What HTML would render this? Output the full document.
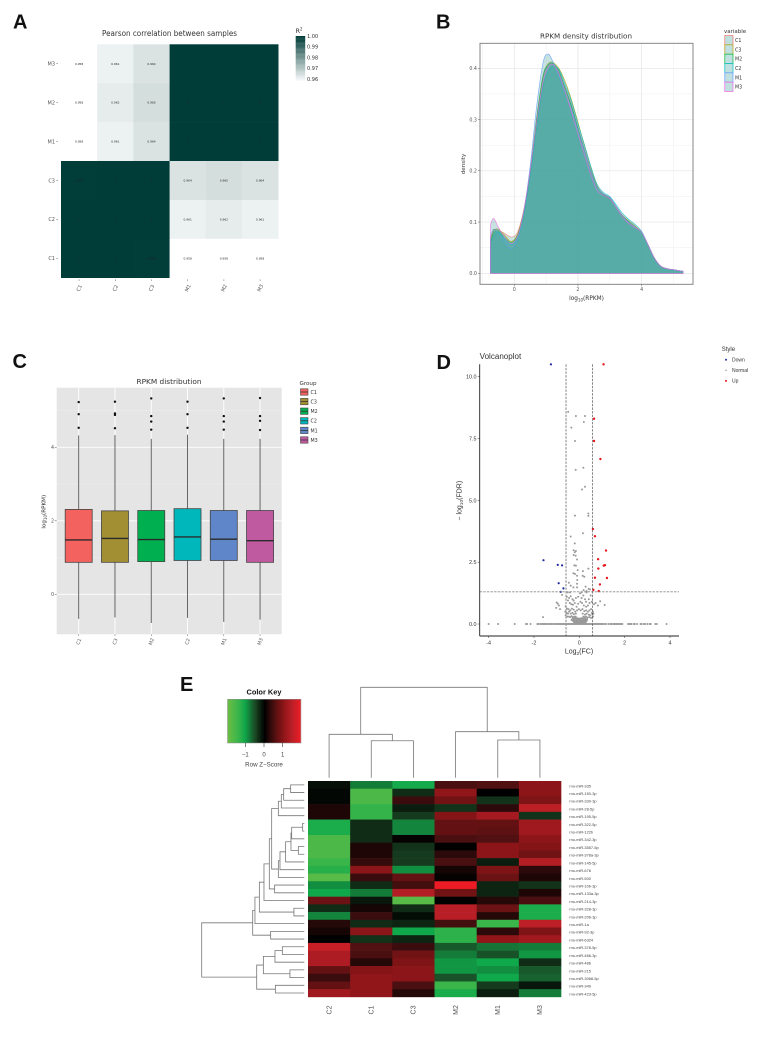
<!DOCTYPE html>
<html lang="en">
<head>
<meta charset="utf-8">
<title>Multi-panel RPKM and miRNA figure</title>
<style>
html,body{margin:0;padding:0;background:#fff;}
svg{display:block;filter:blur(0.3px);}
text{font-family:"DejaVu Sans","Liberation Sans",sans-serif;fill:#333;}
.ls{font-family:"Liberation Sans",sans-serif;}
.letter{font-family:"Liberation Sans",sans-serif;font-weight:bold;font-size:20px;fill:#111;}
</style>
</head>
<body>
<svg id="fig" xmlns="http://www.w3.org/2000/svg" width="771" height="1039" viewBox="0 0 771 1039">
<rect x="0" y="0" width="771" height="1039" fill="#fff"/>

<text class="letter" x="13" y="28.5">A</text>
<text class="letter" x="436" y="28.5">B</text>
<text class="letter" x="12.5" y="368">C</text>
<text class="letter" x="436.5" y="369">D</text>
<text class="letter" x="180" y="691">E</text>

<text x="169.5" y="36" font-size="7.6" text-anchor="middle" textLength="135" lengthAdjust="spacingAndGlyphs">Pearson correlation between samples</text>
<text x="295.5" y="33" font-size="6.5">R<tspan dy="-2.5" font-size="4">2</tspan></text>

<text x="586" y="38.5" font-size="7" text-anchor="middle" textLength="92" lengthAdjust="spacingAndGlyphs">RPKM density distribution</text>
<text x="0" y="0" font-size="5.6" text-anchor="middle" transform="translate(465,164) rotate(-90)">density</text>
<text x="586.5" y="300" font-size="5.8" text-anchor="middle">log<tspan dy="1.5" font-size="4">10</tspan><tspan dy="-1.5">(RPKM)</tspan></text>
<text x="724" y="33" font-size="5.5">variable</text>

<text x="169" y="384" font-size="7" text-anchor="middle" textLength="65" lengthAdjust="spacingAndGlyphs">RPKM distribution</text>
<text x="0" y="0" font-size="5.6" text-anchor="middle" transform="translate(45.5,511.7) rotate(-90)">log<tspan dy="1.5" font-size="4">10</tspan><tspan dy="-1.5">(RPKM)</tspan></text>
<text x="299.5" y="385" font-size="5.6">Group</text>

<text class="ls" x="479.7" y="359" font-size="8" textLength="41.5" lengthAdjust="spacingAndGlyphs">Volcanoplot</text>
<text class="ls" x="0" y="0" font-size="7" text-anchor="middle" transform="translate(461.5,500.7) rotate(-90)">− log<tspan dy="1.7" font-size="4.8">10</tspan><tspan dy="-1.7">(FDR)</tspan></text>
<text class="ls" x="579" y="653.5" font-size="7" text-anchor="middle">Log<tspan dy="1.7" font-size="4.8">2</tspan><tspan dy="-1.7">(FC)</tspan></text>
<text class="ls" x="721.7" y="351" font-size="6">Style</text>

<text class="ls" x="264" y="694.5" font-size="7.4" font-weight="bold" text-anchor="middle" style="fill:#111">Color Key</text>
<text class="ls" x="264" y="766.5" font-size="6.2" text-anchor="middle" style="fill:#444">Row Z−Score</text>

<g id="panelA"></g>
<g id="panelB"></g>
<g id="panelC"></g>
<g id="panelD"></g>
<g id="panelE"></g>
</svg>

<script>
/* ---------- Panel A data ---------- */
var corrRows = ['M3','M2','M1','C3','C2','C1'];
var corrCols = ['C1','C2','C3','M1','M2','M3'];
var corrValues = [
  [0.958,0.961,0.964,1,1,1],
  [0.958,0.962,0.965,1,1,1],
  [0.958,0.961,0.964,1,1,1],
  [0.999,1,1,0.964,0.965,0.964],
  [1,1,1,0.961,0.962,0.961],
  [1,1,0.999,0.958,0.958,0.958]
];
var corrBarTicks = [1.00,0.99,0.98,0.97,0.96];

/* ---------- Panel B data ---------- */
var densityGrid = [-0.75,-0.65,-0.5,-0.3,-0.1,0.1,0.3,0.5,0.7,0.9,1.05,1.2,1.4,1.6,1.8,2,2.2,2.4,2.6,2.8,3,3.2,3.4,3.6,3.8,4,4.2,4.4,4.6,4.8,5,5.3];
var densityC1 = [0.065,0.085,0.084,0.078,0.071,0.08,0.125,0.2,0.3,0.38,0.405,0.41,0.392,0.362,0.328,0.284,0.243,0.203,0.17,0.155,0.148,0.13,0.113,0.1,0.09,0.08,0.056,0.03,0.014,0.009,0.007,0.004];
var densityC3 = [0.06,0.082,0.086,0.074,0.062,0.076,0.122,0.198,0.298,0.383,0.408,0.412,0.4,0.374,0.338,0.295,0.25,0.208,0.171,0.153,0.145,0.128,0.113,0.102,0.092,0.08,0.056,0.03,0.014,0.009,0.007,0.004];
var densityM2 = [0.058,0.078,0.082,0.07,0.06,0.074,0.122,0.198,0.302,0.385,0.405,0.41,0.395,0.36,0.325,0.282,0.24,0.2,0.168,0.154,0.147,0.13,0.112,0.1,0.09,0.08,0.056,0.03,0.014,0.009,0.007,0.004];
var densityC2 = [0.058,0.072,0.08,0.066,0.056,0.068,0.115,0.19,0.285,0.365,0.392,0.403,0.398,0.368,0.335,0.292,0.252,0.21,0.174,0.158,0.15,0.134,0.117,0.105,0.095,0.082,0.056,0.03,0.014,0.009,0.007,0.004];
var densityM1 = [0.07,0.086,0.078,0.06,0.048,0.066,0.122,0.21,0.325,0.41,0.428,0.415,0.385,0.352,0.318,0.278,0.24,0.2,0.168,0.155,0.148,0.13,0.112,0.099,0.09,0.08,0.056,0.03,0.014,0.009,0.007,0.004];
var densityM3 = [0.095,0.107,0.09,0.07,0.058,0.072,0.122,0.2,0.295,0.372,0.4,0.408,0.39,0.354,0.314,0.272,0.232,0.193,0.162,0.152,0.146,0.128,0.11,0.097,0.089,0.08,0.056,0.03,0.014,0.009,0.007,0.004];
var densityNames = ['C1','C3','M2','C2','M1','M3'];
var densityXTicks = [0,2,4];
var densityYTicks = [0,0.1,0.2,0.3,0.4];

/* ---------- Panel C data ---------- */
var boxGroups = ['C1','C3','M2','C2','M1','M3'];
var boxQ1 = [0.87,0.87,0.89,0.92,0.92,0.87];
var boxMedian = [1.48,1.52,1.49,1.56,1.5,1.46];
var boxQ3 = [2.31,2.27,2.28,2.33,2.28,2.28];
var boxLow = [-0.67,-0.63,-0.78,-0.64,-0.75,-0.69];
var boxHigh = [4.32,4.33,4.23,4.34,4.23,4.23];
var boxOutliers = [
  [4.53,4.9,5.23],
  [4.52,4.88,4.92,5.24],
  [4.48,4.7,4.85,5.33],
  [4.53,4.9,5.24],
  [4.48,4.7,4.85,5.33],
  [4.47,4.72,4.85,5.34]
];
var boxYTicks = [0,2,4];

/* ---------- Panel D data ---------- */
var volcanoXTicks = [-4,-2,0,2,4];
var volcanoYTicks = [0,2.5,5,7.5,10];
var fcCutoff = 0.585;
var fdrCutoff = 1.3;
var downPoints = [[-1.25,10.5],[-1.58,2.58],[-0.95,2.39],[-0.76,2.37],[-0.91,1.65],[-0.7,1.44],[-0.82,1.3]];
var upPoints = [[1.07,10.5],[0.65,8.3],[0.65,7.4],[0.93,6.67],[0.6,3.84],[0.69,3.55],[1.18,2.97],[0.83,2.62],[1.13,2.38],[1.08,2.36],[0.84,2.24],[0.69,1.87],[1.22,1.86],[0.91,1.6],[0.86,1.33],[0.62,1.38]];
var normalPoints = [[-0.49,8.58],[-0.15,8.41],[0.25,8.41],[0.2,8.17],[-0.35,7.94],[-0.19,7.4],[0.18,6.32],[-0.16,6.23],[0.25,5.55],[0.12,5.44],[0.4,4.47],[0.4,4.37],[-0.19,4.38],[0.16,3.67],[-0.38,3.54],[-0.2,3.26],[-0.25,2.98],[-0.15,2.95],[-0.2,2.9],[-0.25,2.79],[-0.16,2.76],[-0.1,2.61],[-0.22,2.37],[-0.15,2.36],[-0.07,2.18],[0.16,2.14],[0.4,2.24],[-0.26,2.05],[-0.19,2.02],[-0.1,1.95],[0.15,1.95],[0.22,1.91],[-0.09,1.78],[-0.1,1.63],[-0.46,1.67],[-0.38,1.55],[-0.26,1.48],[-0.1,1.48],[0.28,1.51],[0.41,1.42],[0.19,1.37],[0.32,1.33],[0.47,1.4],[0.1,1.28],[0.03,1.24],[0.32,1.28],[-0.76,1.18],[-0.51,1.28],[-0.41,1.28],[-1.0,0.87],[-0.95,0.82],[-0.9,0.75],[-1.02,0.65],[-0.85,0.6],[-1.6,0.28],[0.92,0.92],[0.65,0.8],[1.12,0.77],[-0.55,1.1],[-0.45,1.05],[-0.38,1.12],[-0.3,1.0],[-0.25,0.95],[-0.15,1.05],[-0.05,1.1],[0.1,1.05],[0.18,1.15],[0.25,1.0],[0.3,0.9],[0.42,1.0],[0.5,1.15],[-0.5,0.95],[-0.42,0.85],[-0.35,0.8],[-0.28,0.78],[-0.2,0.85],[-0.12,0.7],[-0.05,0.82],[0.05,0.9],[0.12,0.85],[0.2,0.75],[0.3,0.7],[0.38,0.75],[0.45,0.85],[0.55,0.9],[0.72,0.85],[0.82,0.75],[-0.6,0.72],[-0.55,0.62],[-0.48,0.6],[-0.4,0.55],[-0.33,0.62],[-0.25,0.58],[-0.18,0.5],[-0.1,0.55],[-0.02,0.6],[0.06,0.55],[0.14,0.6],[0.22,0.52],[0.3,0.55],[0.38,0.5],[0.45,0.55],[0.52,0.6],[0.6,0.5],[0.62,0.42],[0.55,0.45],[-0.62,0.5],[-0.56,0.45],[-0.5,0.42],[-0.45,0.5],[-0.38,0.42],[-0.3,0.45],[-0.24,0.4],[-0.15,0.42],[0.15,0.42],[0.25,0.38],[0.32,0.42],[0.42,0.38],[0.48,0.35],[0.58,0.38],[0.6,0.3],[-0.6,0.35],[-0.52,0.3],[-0.45,0.3],[-0.4,0.28],[-0.34,0.32],[-0.28,0.28],[-0.22,0.3],[-0.16,0.3],[0.18,0.3],[0.24,0.28],[0.3,0.3],[0.36,0.26],[0.44,0.28],[0.52,0.25],[-0.3,0.22],[-0.26,0.2],[-0.22,0.22],[-0.18,0.24],[-0.14,0.2],[-0.1,0.24],[-0.06,0.2],[-0.02,0.22],[0.02,0.2],[0.06,0.22],[0.1,0.24],[0.14,0.2],[0.18,0.22],[0.22,0.2],[0.26,0.22],[0.3,0.18],[0.34,0.2],[-0.34,0.16],[-0.3,0.14],[-0.26,0.12],[-0.22,0.15],[-0.18,0.13],[-0.14,0.16],[-0.1,0.12],[-0.06,0.15],[-0.02,0.13],[0.02,0.16],[0.06,0.13],[0.1,0.15],[0.14,0.12],[0.18,0.15],[0.22,0.13],[0.26,0.14],[0.3,0.12],[0.34,0.14],[-0.24,0.08],[-0.2,0.06],[-0.16,0.09],[-0.12,0.05],[-0.08,0.08],[-0.04,0.05],[0,0.09],[0.04,0.05],[0.08,0.08],[0.12,0.05],[0.16,0.08],[0.2,0.06],[0.24,0.08],[0.28,0.06]];
var zeroFDRFoldChanges = [-4,-3.58,-2.85,-2.35,-2.3,-2.15,-1.85,-1.8,-1.72,-1.65,-1.6,-1.55,-1.5,-1.45,-1.38,-1.32,-1.28,-1.22,-1.18,-1.1,-1.05,-1,-0.95,-0.9,-0.85,-0.8,-0.75,-0.7,-0.65,-0.6,-0.55,-0.5,-0.45,-0.4,-0.35,-0.3,-0.25,-0.2,-0.15,-0.1,-0.05,0,0.05,0.1,0.15,0.2,0.25,0.3,0.35,0.4,0.45,0.5,0.55,0.6,0.65,0.7,0.75,0.8,0.85,0.9,0.95,1,1.05,1.12,1.2,1.3,1.38,1.42,1.5,1.55,1.6,1.65,1.7,1.75,1.8,1.85,1.9,2.15,2.2,2.25,2.3,2.4,2.45,2.55,2.7,2.75,2.85,2.9,3,3.1,3.15,3.35,3.42,3.85];
var volcanoLegend = ['Down','Normal','Up'];

/* ---------- Panel E data ---------- */
var heatCols = ['C2','C1','C3','M2','M1','M3'];
var heatRows = ['rno-miR-335','rno-miR-150-3p','rno-miR-330-3p','rno-miR-28-5p','rno-miR-195-5p','rno-miR-322-5p','rno-miR-122b','rno-miR-342-3p','rno-miR-3557-5p','rno-miR-378a-3p','rno-miR-145-5p','rno-miR-676','rno-miR-500','rno-miR-10b-3p','rno-miR-133a-3p','rno-miR-214-3p','rno-miR-328-3p','rno-miR-206-3p','rno-miR-1a','rno-miR-92-3p','rno-miR-6324','rno-miR-376-5p','rno-miR-466-3p','rno-miR-486','rno-miR-215','rno-miR-3068-5p','rno-miR-349','rno-miR-423-5p'];
var heatValues = [
  [-0.1,-0.8,-1.1,0.5,0.55,1.0],
  [-0.05,-1.6,-0.3,1.05,0,1.0],
  [-0.05,-1.6,0.4,0.8,-0.35,0.9],
  [0.2,-1.35,-0.2,-0.35,0.3,1.5],
  [0.2,-1.35,-0.4,0.95,1.25,-0.35],
  [-1.15,-0.3,-0.85,0.7,0.7,1.2],
  [-1.15,-0.3,-0.85,0.7,0.65,1.2],
  [-1.6,-0.3,0.05,0.5,0.55,1.0],
  [-1.6,0.2,-0.35,0,1.0,0.95],
  [-1.6,0.2,-0.4,0.3,1.0,0.8],
  [-1.4,0.35,-0.4,0.5,-0.2,1.4],
  [-1.25,1.0,-0.9,0.15,0.9,0.3],
  [-1.75,0.4,0.7,0.05,0.75,0.2],
  [-0.9,-0.3,0.45,1.95,-0.25,-0.35],
  [-1.05,-0.8,1.4,0.8,-0.25,0.2],
  [0.75,-0.15,-1.75,0,0.25,0.5],
  [-0.3,0.15,-0.3,1.45,0.75,-1.15],
  [-0.85,0.4,-0.08,1.45,0.25,-1.15],
  [0.25,-0.3,-0.25,0.45,-1.4,1.5],
  [0.15,1.0,-1.05,-1.3,0.3,0.9],
  [0,-0.35,-0.25,-1.3,1.05,1.2],
  [1.6,0.55,0.4,-0.6,-0.75,-0.8],
  [1.35,0.5,0.8,-0.8,-0.55,-0.95],
  [1.35,0.25,0.9,-0.95,-1.05,-0.3],
  [0.7,0.95,1.0,-0.95,-0.9,-0.6],
  [0.4,1.05,1.0,-0.55,-1.05,-0.65],
  [0.7,1.05,0.5,-1.4,-0.4,-0.15],
  [1.2,1.05,0.25,-1.15,-0.2,-0.8]
];
var keyTicks = [-1,0,1];
/* merges: [height, left, right]; integers at the leaves are column / row indices */
var colTree = [10,[4.8,0,[4.09,1,2]],[5.09,3,[4.17,4,5]]];
var rowTree = [10,
 [5.03,
  [4.81,
   [4.38,
    [3.93,
     [3.41,
      [3.18,
       [2.53,[2.24,[2.01,[1.33,0,1],2],3],4],
       [2.53,[2.37,[1.82,[1.3,[1.23,[0.16,5,6],7],[0.58,8,9]],10],11],12]
      ],
      [2.89,13,14]
     ],
     15
    ],
    [1.01,16,17]
   ],
   18
  ],
  [3.28,19,20]
 ],
 [4.64,
  [3.99,[2.86,[2.14,21,22],23],[1.4,24,25]],
  [2.82,26,27]
 ]
];

/* ---------- helpers ---------- */
var NS = 'http://www.w3.org/2000/svg';
function el(parent, tag, attrs, txt){
  var e = document.createElementNS(NS, tag);
  for (var k in attrs) e.setAttribute(k, attrs[k]);
  if (txt !== undefined) e.textContent = txt;
  parent.appendChild(e);
  return e;
}
function smoothPath(pts){
  var d = '';
  for (var i = 0; i < pts.length - 1; i++){
    var p0 = pts[Math.max(i-1,0)], p1 = pts[i], p2 = pts[i+1], p3 = pts[Math.min(i+2,pts.length-1)];
    var c1x = p1[0] + (p2[0]-p0[0])/6, c1y = p1[1] + (p2[1]-p0[1])/6;
    var c2x = p2[0] - (p3[0]-p1[0])/6, c2y = p2[1] - (p3[1]-p1[1])/6;
    d += 'C' + c1x.toFixed(2) + ' ' + c1y.toFixed(2) + ' ' + c2x.toFixed(2) + ' ' + c2y.toFixed(2) + ' ' + p2[0].toFixed(2) + ' ' + p2[1].toFixed(2);
  }
  return d;
}
function hexMix(a, b, t){
  var r = [];
  for (var i = 0; i < 3; i++) r.push(Math.round(a[i] + (b[i]-a[i])*t));
  return 'rgb(' + r.join(',') + ')';
}

/* ---------- Panel A ---------- */
(function(){
  var g = document.getElementById('panelA');
  var left = 61, top = 44.3, cw = 36.2, ch = 38.9;
  function colorOf(v){
    var t = Math.max(0, Math.min(1, (v - 0.958) / 0.0412));
    return hexMix([255,255,255],[0,60,56],t);
  }
  corrValues.forEach(function(row, r){
    row.forEach(function(v, c){
      var cell = el(g,'rect',{x:left+c*cw,y:top+r*ch,width:cw+0.3,height:ch+0.3,fill:colorOf(v)});
      
      
      var t = el(g,'text',{x:left+(c+0.5)*cw,y:top+(r+0.5)*ch+1,'font-size':2.9,'text-anchor':'middle',style:'fill:#222'}, String(v));
      
      
    });
  });
  corrRows.forEach(function(n, r){
    var y = top+(r+0.5)*ch;
    var t = el(g,'text',{x:55,y:y+1.8,'font-size':5,'text-anchor':'end',style:'fill:#555'}, n);
    
    
    var k = el(g,'line',{x1:56.3,x2:58,y1:y,y2:y,stroke:'#666','stroke-width':0.5});
    
    
  });
  corrCols.forEach(function(n, c){
    var x = left+(c+0.5)*cw;
    var t = el(g,'text',{transform:'translate('+x+',288) rotate(-65)','font-size':5,'text-anchor':'middle',y:1.8,style:'fill:#555'}, n);
    
    
    var k = el(g,'line',{x1:x,x2:x,y1:279.3,y2:281,stroke:'#666','stroke-width':0.5});
    
    
  });
  var barY = function(v){ return 36 + (1 - v) / 0.04 * 43; };
  for (var i = 0; i < 45; i++){
    var v = 1.0 - i * (0.046 / 45);
    var s = el(g,'rect',{x:295.7,y:barY(v),width:9.5,height:1.2,fill:colorOf(v)});
    
    
  }
  corrBarTicks.forEach(function(v){
    var t = el(g,'text',{x:307,y:barY(v)+1.8,'font-size':5,style:'fill:#333'}, v.toFixed(2));
    
    
  });
})();

/* ---------- Panel B ---------- */
(function(){
  var g = document.getElementById('panelB');
  var L = 480, R = 693, T = 43.3, B = 284.3;
  var sx = function(v){ return 514.3 + v * 31.83; };
  var sy = function(v){ return 273.3 - v * 512.5; };
  var lineColors = ['#F8766D','#B79F00','#00BA38','#00BFC4','#619CFF','#F564E3'];
  var series = [densityC1,densityC3,densityM2,densityC2,densityM1,densityM3];
  var bg = el(g,'rect',{x:L,y:T,width:R-L,height:B-T,fill:'#fff'});
  
  
  [1,3,5,-1].forEach(function(v){
    if (sx(v) > L && sx(v) < R){
      var m = el(g,'line',{x1:sx(v),x2:sx(v),y1:T,y2:B,stroke:'#f1f1f1','stroke-width':0.6});
      
      
    }
  });
  [0.05,0.15,0.25,0.35].forEach(function(v){
    var m = el(g,'line',{x1:L,x2:R,y1:sy(v),y2:sy(v),stroke:'#f1f1f1','stroke-width':0.6});
    
    
  });
  densityXTicks.forEach(function(v){
    var m = el(g,'line',{x1:sx(v),x2:sx(v),y1:T,y2:B,stroke:'#e4e4e4','stroke-width':0.7});
    
    
    var k = el(g,'line',{x1:sx(v),x2:sx(v),y1:B,y2:B+2,stroke:'#555','stroke-width':0.5});
    
    
    var t = el(g,'text',{x:sx(v),y:291,'font-size':4.8,'text-anchor':'middle',style:'fill:#555'}, String(v));
    
    
  });
  densityYTicks.forEach(function(v){
    var m = el(g,'line',{x1:L,x2:R,y1:sy(v),y2:sy(v),stroke:'#e4e4e4','stroke-width':0.7});
    
    
    var k = el(g,'line',{x1:L-2,x2:L,y1:sy(v),y2:sy(v),stroke:'#555','stroke-width':0.5});
    
    
    var t = el(g,'text',{x:477,y:sy(v)+1.7,'font-size':4.8,'text-anchor':'end',style:'fill:#555'}, v.toFixed(1));
    
    
  });
  series.forEach(function(vals, i){
    var pts = vals.map(function(v, j){ return [sx(densityGrid[j]), sy(v)]; });
    var x0 = sx(densityGrid[0]), x1 = sx(densityGrid[densityGrid.length-1]), y0 = sy(0);
    var d = 'M' + x0 + ' ' + y0 + 'L' + pts[0][0] + ' ' + pts[0][1] + smoothPath(pts) + 'L' + x1 + ' ' + y0 + 'Z';
    var p = el(g,'path',{d:d,fill:'rgba(67,163,156,0.3)',stroke:lineColors[i],'stroke-width':0.6,'stroke-opacity':0.85});
    
    
  });
  var border = el(g,'rect',{x:L,y:T,width:R-L,height:B-T,fill:'none',stroke:'#7a7a7a','stroke-width':0.9});
  
  
  densityNames.forEach(function(n, i){
    var y = 35.5 + i * 9.33;
    var k = el(g,'rect',{x:724.8,y:y,width:8.2,height:9.33,fill:'#c0dfdf',stroke:lineColors[i],'stroke-width':0.7});
    
    
    var t = el(g,'text',{x:735,y:y+6.5,'font-size':4.8,style:'fill:#333'}, n);
    
    
  });
})();

/* ---------- Panel C ---------- */
(function(){
  var g = document.getElementById('panelC');
  var L = 56.7, R = 281.7, T = 387.7, B = 634.3;
  var sx = function(i){ return 78.7 + i * 36.27; };
  var sy = function(v){ return 594.3 - v * 36.75; };
  var fills = ['#f4625f','#a38f33','#00b050','#00b7bc','#5f86c8','#c05aa0'];
  var bg = el(g,'rect',{x:L,y:T,width:R-L,height:B-T,fill:'#e5e5e5'});
  
  
  [1,3,5].forEach(function(v){
    var m = el(g,'line',{x1:L,x2:R,y1:sy(v),y2:sy(v),stroke:'#efefef','stroke-width':0.5});
    
    
  });
  boxYTicks.forEach(function(v){
    var m = el(g,'line',{x1:L,x2:R,y1:sy(v),y2:sy(v),stroke:'#fff','stroke-width':0.9});
    
    
    var k = el(g,'line',{x1:L-2,x2:L,y1:sy(v),y2:sy(v),stroke:'#555','stroke-width':0.5});
    
    
    var t = el(g,'text',{x:54,y:sy(v)+1.7,'font-size':4.8,'text-anchor':'end',style:'fill:#555'}, String(v));
    
    
  });
  boxGroups.forEach(function(n, i){
    var x = sx(i), w = 27;
    var gl = el(g,'line',{x1:x,x2:x,y1:T,y2:B,stroke:'#fff','stroke-width':0.9});
    
    
    var wh = el(g,'line',{x1:x,x2:x,y1:sy(boxHigh[i]),y2:sy(boxLow[i]),stroke:'#555','stroke-width':0.9});
    
    
    var b = el(g,'rect',{x:x-w/2,y:sy(boxQ3[i]),width:w,height:sy(boxQ1[i])-sy(boxQ3[i]),fill:fills[i],stroke:'#444','stroke-width':0.8});
    
    
    var md = el(g,'line',{x1:x-w/2,x2:x+w/2,y1:sy(boxMedian[i]),y2:sy(boxMedian[i]),stroke:'#2b2b2b','stroke-width':1.4});
    
    
    boxOutliers[i].forEach(function(v){
      var o = el(g,'circle',{cx:x,cy:sy(v),r:1.2,fill:'#111'});
      
      
    });
    var k = el(g,'line',{x1:x,x2:x,y1:B,y2:B+1.6,stroke:'#555','stroke-width':0.5});
    
    
    var t = el(g,'text',{transform:'translate('+x+',641.5) rotate(-70)','font-size':4.8,'text-anchor':'middle',y:1.7,style:'fill:#555'}, n);
    
    
    var y = 392 + i * 9.6;
    var lk = el(g,'rect',{x:300.5,y:y-3.2,width:7.5,height:6.4,fill:fills[i],stroke:'#444','stroke-width':0.6});
    
    
    var lm = el(g,'line',{x1:300.5,x2:308,y1:y,y2:y,stroke:'#333','stroke-width':0.8});
    
    
    var lt = el(g,'text',{x:310.5,y:y+1.9,'font-size':4.8,style:'fill:#333'}, n);
    
    
  });
})();

/* ---------- Panel D ---------- */
(function(){
  var g = document.getElementById('panelD');
  var L = 479.7, R = 679, T = 364.3, B = 636;
  var sx = function(v){ return 579.3 + v * 22.67; };
  var sy = function(v){ return 624 - v * 24.73; };
  zeroFDRFoldChanges.forEach(function(v){
    var p = el(g,'circle',{cx:sx(v),cy:sy(0),r:1,fill:'#999'});
    
    
  });
  normalPoints.forEach(function(q){
    var p = el(g,'circle',{cx:sx(q[0]),cy:sy(q[1]),r:1,fill:'#999'});
    
    
  });
  downPoints.forEach(function(q){
    var p = el(g,'circle',{cx:sx(q[0]),cy:sy(q[1]),r:1.1,fill:'#1f2a9c'});
    
    
  });
  upPoints.forEach(function(q){
    var p = el(g,'circle',{cx:sx(q[0]),cy:sy(q[1]),r:1.2,fill:'#e8141c'});
    
    
  });
  var h = el(g,'line',{x1:L,x2:R,y1:sy(fdrCutoff),y2:sy(fdrCutoff),stroke:'#8a8a8a','stroke-width':0.9,'stroke-dasharray':'2.4 1.2'});
  
  
  var v1 = el(g,'line',{x1:sx(-fcCutoff),x2:sx(-fcCutoff),y1:T,y2:B,stroke:'#999','stroke-width':1.2,'stroke-dasharray':'2.4 1.2'});
  
  
  var v2 = el(g,'line',{x1:sx(fcCutoff),x2:sx(fcCutoff),y1:T,y2:B,stroke:'#555','stroke-width':0.7,'stroke-dasharray':'2.4 1.2'});
  
  
  var ay = el(g,'line',{x1:L,x2:L,y1:T,y2:B,stroke:'#222','stroke-width':0.9});
  
  
  var ax = el(g,'line',{x1:L,x2:R,y1:B,y2:B,stroke:'#222','stroke-width':0.9});
  
  
  volcanoXTicks.forEach(function(v){
    var k = el(g,'line',{x1:sx(v),x2:sx(v),y1:B,y2:B+2,stroke:'#333','stroke-width':0.5});
    
    
    var t = el(g,'text',{x:sx(v),y:644.7,'font-size':5.4,'text-anchor':'middle','class':'ls',style:'fill:#333'}, String(v));
    
    
  });
  volcanoYTicks.forEach(function(v){
    var k = el(g,'line',{x1:L-2,x2:L,y1:sy(v),y2:sy(v),stroke:'#333','stroke-width':0.5});
    
    
    var t = el(g,'text',{x:476.5,y:sy(v)+1.9,'font-size':5.4,'text-anchor':'end','class':'ls',style:'fill:#333'}, v.toFixed(1));
    
    
  });
  var legendColors = ['#1f2a9c','#8c8c8c','#e8141c'];
  volcanoLegend.forEach(function(n, i){
    var y = 359.7 + i * 10.6;
    var c = el(g,'circle',{cx:726,cy:y,r:i===1?0.7:1,fill:legendColors[i]});
    
    
    var t = el(g,'text',{x:732,y:y+1.8,'font-size':5,'class':'ls',style:'fill:#333'}, n);
    
    
  });
})();

/* ---------- Panel E ---------- */
(function(){
  var g = document.getElementById('panelE');
  var left = 308, top = 781, cw = 42.17, rh = 7.71;
  var stops = [[-1.95,[106,189,69]],[-1.4,[57,181,74]],[-1.05,[15,168,75]],[-0.5,[26,72,36]],[0,[0,0,0]],[0.5,[74,15,16]],[1,[139,21,24]],[1.5,[189,31,39]],[1.95,[237,28,36]]];
  function colorOf(v){
    v = Math.max(-1.95, Math.min(1.95, v));
    for (var i = 0; i < stops.length - 1; i++){
      if (v <= stops[i+1][0]){
        return hexMix(stops[i][1], stops[i+1][1], (v - stops[i][0]) / (stops[i+1][0] - stops[i][0]));
      }
    }
    return 'rgb(237,28,36)';
  }
  heatValues.forEach(function(row, r){
    row.forEach(function(v, c){
      var cell = el(g,'rect',{x:left+c*cw,y:top+r*rh,width:cw+0.3,height:rh+0.3,fill:colorOf(v)});
      
      
    });
    var t = el(g,'text',{x:569.3,y:top+(r+0.5)*rh+2.4,'font-size':3.9,'class':'ls',style:'fill:#444'}, heatRows[r]);
    
    
  });
  heatCols.forEach(function(n, c){
    var t = el(g,'text',{transform:'translate('+(left+(c+0.5)*cw+2.3)+',1010) rotate(-90)','font-size':7,'text-anchor':'middle','class':'ls',style:'fill:#555'}, n);
    
    
  });
  /* color key */
  var kx = function(v){ return 264 + v * 18.7; };
  for (var i = 0; i < 78; i++){
    var v = -1.95 + i * 0.05;
    var s = el(g,'rect',{x:kx(v),y:699.3,width:1.3,height:43.7,fill:colorOf(v)});
    
    
  }
  var kb = el(g,'rect',{x:kx(-1.95),y:699.3,width:kx(1.95)-kx(-1.95)+0.5,height:43.7,fill:'none',stroke:'#8a8a8a','stroke-width':0.5});
  
  
  keyTicks.forEach(function(v){
    var k = el(g,'line',{x1:kx(v),x2:kx(v),y1:743,y2:747,stroke:'#333','stroke-width':0.6});
    
    
    var t = el(g,'text',{x:kx(v),y:756.4,'font-size':6,'text-anchor':'middle','class':'ls',style:'fill:#444'}, v < 0 ? '−' + Math.abs(v) : String(v));
    
    
  });
  /* dendrograms */
  var colY = function(h){ return 777.7 - h * 9.04; };
  function drawCol(node){
    if (typeof node === 'number') return {x:left+(node+0.5)*cw, y:777.7};
    var a = drawCol(node[1]), b = drawCol(node[2]), y = colY(node[0]);
    var p = el(g,'path',{d:'M'+a.x+' '+a.y+'V'+y+'H'+b.x+'V'+b.y,fill:'none',stroke:'#777','stroke-width':0.8});
    
    
    return {x:(a.x+b.x)/2, y:y};
  }
  drawCol(colTree);
  var rowX = function(h){ return 304.3 - h * 10.26; };
  function drawRow(node){
    if (typeof node === 'number') return {y:top+(node+0.5)*rh, x:304.3};
    var a = drawRow(node[1]), b = drawRow(node[2]), x = rowX(node[0]);
    var p = el(g,'path',{d:'M'+a.x+' '+a.y+'H'+x+'V'+b.y+'H'+b.x,fill:'none',stroke:'#777','stroke-width':0.8});
    
    
    return {y:(a.y+b.y)/2, x:x};
  }
  drawRow(rowTree);
})();
</script>
</body>
</html>
